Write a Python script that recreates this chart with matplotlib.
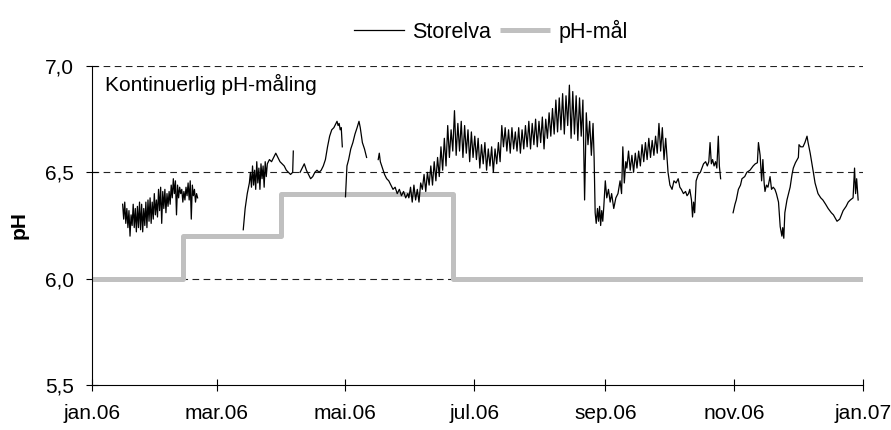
import numpy as np
import matplotlib
matplotlib.use("Agg")
from matplotlib import pyplot as plt

plt.rcParams['font.family'] = ['Liberation Sans', 'DejaVu Sans']

# Dager fra 1. jan 2006 og pH-verdier, Storelva
seg1_start, seg1_step = 14.5, 0.5
seg1_ph = [6.35, 6.28, 6.36, 6.26, 6.33, 6.24, 6.32, 6.20, 6.30, 6.25,
           6.35, 6.24, 6.33, 6.22, 6.34, 6.24, 6.36, 6.23, 6.35, 6.22,
           6.33, 6.25, 6.36, 6.24, 6.37, 6.27, 6.38, 6.26, 6.36, 6.28,
           6.40, 6.30, 6.37, 6.29, 6.42, 6.32, 6.43, 6.26, 6.41, 6.33,
           6.42, 6.31, 6.40, 6.34, 6.41, 6.35, 6.44, 6.38, 6.47, 6.40,
           6.46, 6.30, 6.44, 6.38, 6.43, 6.40, 6.42, 6.36, 6.41, 6.37,
           6.43, 6.39, 6.45, 6.37, 6.46, 6.28, 6.44, 6.39, 6.42, 6.36,
           6.40, 6.38]

seg2_days = [71.6, 72.5, 73.5, 74.5, 75, 75.5, 76, 76.5, 77, 77.5, 78, 78.5,
             79, 79.5, 80, 80.5, 81, 81.5, 82, 82.5, 83, 84, 85, 86, 87, 88,
             89, 90, 91, 92, 93, 94, 95, 95.3]
seg2_ph = [6.23, 6.33, 6.40, 6.45, 6.50, 6.43, 6.53, 6.44, 6.51, 6.42, 6.55, 6.45,
           6.52, 6.42, 6.54, 6.47, 6.53, 6.43, 6.55, 6.48, 6.54, 6.56, 6.55, 6.57,
           6.59, 6.57, 6.55, 6.54, 6.53, 6.51, 6.50, 6.49, 6.50, 6.60]

seg3_days = [98.5, 99.5, 100.5, 101.5, 102.5, 103.5, 104.5, 105.5, 106.5, 107.5,
             108.5, 109.5, 110.5, 111.5, 112.5, 113.5, 114.5, 115.5, 116, 116.5,
             117, 117.5, 118, 118.5]
seg3_ph = [6.50, 6.52, 6.54, 6.51, 6.49, 6.47, 6.48, 6.50, 6.51, 6.50,
           6.51, 6.53, 6.56, 6.62, 6.67, 6.70, 6.71, 6.73, 6.74, 6.72,
           6.73, 6.70, 6.71, 6.62]

seg4_days = [120, 120.7, 121.5, 122.5, 123.5, 124.5, 125.5, 126.4, 127, 128, 129, 130]
seg4_ph = [6.385, 6.53, 6.56, 6.61, 6.64, 6.68, 6.71, 6.74, 6.71, 6.64, 6.61, 6.57]

seg5a_days = [135.5, 136, 136.5, 137.5, 138.5, 139.5, 140.5, 141.5, 142.5, 143.5,
              144.5, 145.5, 146.5, 147.5, 148.5, 149.5]
seg5a_ph = [6.56, 6.59, 6.55, 6.52, 6.49, 6.47, 6.46, 6.44, 6.42, 6.43,
            6.40, 6.42, 6.39, 6.41, 6.38, 6.40]

seg5b_start, seg5b_step = 150.0, 0.8
seg5b_ph = [6.38, 6.43, 6.36, 6.44, 6.37, 6.42, 6.36, 6.45, 6.42, 6.49,
            6.41, 6.50, 6.44, 6.53, 6.44, 6.55, 6.46, 6.57, 6.48, 6.62,
            6.51, 6.66, 6.53, 6.72, 6.57, 6.70, 6.60, 6.79, 6.58, 6.73,
            6.60, 6.74, 6.57, 6.72, 6.59, 6.70, 6.55, 6.69, 6.57, 6.67,
            6.56, 6.66, 6.52, 6.63, 6.54, 6.64, 6.51, 6.61, 6.53, 6.62,
            6.50, 6.61, 6.54, 6.64, 6.55, 6.72, 6.62, 6.71, 6.60, 6.70,
            6.59, 6.71, 6.61, 6.69, 6.60, 6.71, 6.59, 6.70, 6.61, 6.72,
            6.62, 6.74, 6.61, 6.73, 6.63, 6.75, 6.62, 6.74, 6.64, 6.76,
            6.61, 6.75, 6.66, 6.78, 6.67, 6.80, 6.68, 6.84, 6.69, 6.85,
            6.70, 6.87, 6.68, 6.86, 6.72, 6.91, 6.66, 6.88, 6.68, 6.86,
            6.65, 6.85, 6.67, 6.84, 6.37, 6.78, 6.63, 6.74, 6.58, 6.73]

seg5c_days = [237.7, 238.2, 238.7, 239.3, 239.8, 240.3, 240.8, 241.3, 241.8, 242.3,
              243, 243.7, 244.5, 245.3, 246, 247, 248, 249, 250, 250.7, 251.3,
              252, 252.7]
seg5c_ph = [6.57, 6.31, 6.26, 6.33, 6.27, 6.34, 6.25, 6.32, 6.27, 6.34,
            6.46, 6.38, 6.42, 6.36, 6.40, 6.33, 6.38, 6.40, 6.46, 6.40, 6.62,
            6.45, 6.55]

seg5d_start, seg5d_step = 253.2, 0.8
seg5d_ph = [6.52, 6.60, 6.51, 6.58, 6.50, 6.59, 6.52, 6.60, 6.53, 6.63,
            6.55, 6.64, 6.56, 6.66, 6.57, 6.65, 6.58, 6.67, 6.59, 6.73,
            6.60, 6.71, 6.56, 6.66]

seg5e_days = [272.7, 273.6, 274.6, 275.5, 276.5, 277.5, 278.3, 279, 280, 281,
              281.7, 282.4, 283, 283.8, 284.3, 284.8, 285.3, 286, 287, 288,
              289.5, 290.5, 291.3, 292, 292.6, 293.2, 293.8, 294.5, 295.2, 295.8,
              296.5, 297.0, 297.6]
seg5e_ph = [6.50, 6.44, 6.42, 6.46, 6.45, 6.47, 6.43, 6.42, 6.40, 6.41,
            6.39, 6.40, 6.42, 6.37, 6.29, 6.36, 6.31, 6.46, 6.49, 6.50,
            6.54, 6.55, 6.53, 6.55, 6.64, 6.54, 6.56, 6.53, 6.55, 6.52,
            6.67, 6.53, 6.47]

seg6_days = [303.5, 304.4, 305, 306, 307, 307.7, 309, 310, 311.5, 313, 314, 315,
             315.5, 316.3, 317, 317.6, 318.2, 318.6, 319.3, 320, 321, 321.7,
             322.5, 323.3, 324, 325, 325.8, 326.6, 327, 327.5, 328, 329, 330.5,
             331.4, 332, 333, 334.4, 334.7, 335.5, 336.6, 337.5, 338.5, 339, 340,
             341.5, 342.3, 343.7, 345, 346, 347.3, 348.5, 350, 351, 352.7, 354,
             355.6, 357, 358, 359, 360.3, 361, 361.5, 362, 362.7]
seg6_ph = [6.31, 6.35, 6.37, 6.42, 6.44, 6.47, 6.48, 6.50, 6.51, 6.53, 6.54, 6.545,
           6.64, 6.58, 6.46, 6.56, 6.45, 6.41, 6.44, 6.43, 6.48, 6.42,
           6.43, 6.42, 6.40, 6.36, 6.245, 6.20, 6.24, 6.19, 6.31, 6.37, 6.43,
           6.49, 6.52, 6.545, 6.57, 6.63, 6.62, 6.62, 6.64, 6.67, 6.64, 6.59,
           6.50, 6.45, 6.40, 6.38, 6.37, 6.35, 6.33, 6.31, 6.30, 6.27, 6.28,
           6.32, 6.34, 6.36, 6.37, 6.38, 6.52, 6.40, 6.47, 6.37]

# pH-mål (trappefunksjon)
target_days = [0, 43, 89.5, 171, 365]
target_ph = [6.0, 6.2, 6.4, 6.0, 6.0]

tick_days = [0, 59, 120, 181, 243, 304, 365]
tick_labels = ['jan.06', 'mar.06', 'mai.06', 'jul.06', 'sep.06', 'nov.06', 'jan.07']
ytick_vals = [5.5, 6.0, 6.5, 7.0]
ytick_labels = ['5,5', '6,0', '6,5', '7,0']


def regular(start, step, vals):
    return start + step * np.arange(len(vals)), vals


segments = [
    regular(seg1_start, seg1_step, seg1_ph),
    (seg2_days, seg2_ph),
    (seg3_days, seg3_ph),
    (seg4_days, seg4_ph),
    # sammenhengende fra mai til oktober
    (np.concatenate([seg5a_days,
                     regular(seg5b_start, seg5b_step, seg5b_ph)[0],
                     seg5c_days,
                     regular(seg5d_start, seg5d_step, seg5d_ph)[0],
                     seg5e_days]),
     seg5a_ph + seg5b_ph + seg5c_ph + seg5d_ph + seg5e_ph),
    (seg6_days, seg6_ph),
]

fig = plt.figure(figsize=(8.91, 4.30), dpi=100)
ax = fig.add_axes([92 / 891, 45 / 430, 771 / 891, 319 / 430])

for i, (d, p) in enumerate(segments):
    ax.plot(d, p, color='black', lw=0.9, label='Storelva' if i == 0 else None, zorder=3)

ax.step(target_days, target_ph, where='post', color='#c0c0c0', lw=3.6,
        label='pH-mål', zorder=2, solid_capstyle='butt')

for y in [6.0, 6.5, 7.0]:
    ax.axhline(y, color='#222222', lw=0.8, ls=(0, (6, 4)), zorder=1)

ax.set_xlim(0, 365)
ax.set_ylim(5.5, 7.0)
ax.set_xticks(tick_days)
ax.set_xticklabels(tick_labels)
ax.set_yticks(ytick_vals)
ax.set_yticklabels(ytick_labels)
ax.tick_params(direction='inout', length=8, width=0.8, labelsize=15)
ax.tick_params(axis='x', pad=10)
ax.tick_params(axis='y', pad=9)
for s in ['top', 'right']:
    ax.spines[s].set_visible(False)
for s in ['left', 'bottom']:
    ax.spines[s].set_linewidth(0.8)

ax.set_ylabel('pH', fontsize=15, fontweight='bold', labelpad=12)
ax.text(0.017, 0.975, 'Kontinuerlig pH-måling', transform=ax.transAxes,
        fontsize=15, va='top', ha='left')

fig.legend(loc='upper center', bbox_to_anchor=(0.551, 1.0), ncol=2, frameon=False,
           fontsize=15.5, handlelength=2.3, handletextpad=0.4, columnspacing=0.4)

fig.savefig('out.png', dpi=100)
